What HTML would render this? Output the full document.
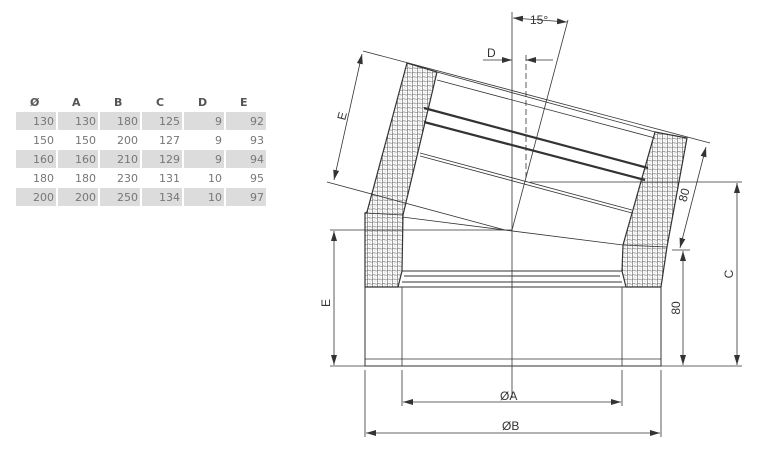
<!DOCTYPE html>
<html><head><style>
body{margin:0;background:#fff;width:775px;height:450px;overflow:hidden;font-family:"Liberation Sans","DejaVu Sans",sans-serif}
table{position:absolute;left:14px;top:92px;border-collapse:separate;border-spacing:2px 1px;font-family:"DejaVu Sans",sans-serif;font-size:11px;color:#777;table-layout:fixed}
td,th{box-sizing:border-box;width:40px;min-width:40px;max-width:40px;height:18px;text-align:right;padding:0 2px 0 0;overflow:hidden}
th{text-align:left;padding-left:14px;font-weight:bold;color:#555}
tr.g td{background:#dcdcdc}
</style></head><body>
<table>
<tr><th>Ø</th><th>A</th><th>B</th><th>C</th><th>D</th><th>E</th></tr>
<tr class="g"><td>130</td><td>130</td><td>180</td><td>125</td><td>9</td><td>92</td></tr>
<tr><td>150</td><td>150</td><td>200</td><td>127</td><td>9</td><td>93</td></tr>
<tr class="g"><td>160</td><td>160</td><td>210</td><td>129</td><td>9</td><td>94</td></tr>
<tr><td>180</td><td>180</td><td>230</td><td>131</td><td>10</td><td>95</td></tr>
<tr class="g"><td>200</td><td>200</td><td>250</td><td>134</td><td>10</td><td>97</td></tr>
</table>
<svg width="775" height="450" style="position:absolute;left:0;top:0" font-family="Liberation Sans, sans-serif" font-size="12" fill="none" stroke="#333" stroke-width="0.8">
<defs>
<pattern id="hx" width="5" height="4.4" patternUnits="userSpaceOnUse">
<circle cx="1.25" cy="1.1" r="1.5" stroke="#555" stroke-width="0.5"/><circle cx="3.75" cy="3.3" r="1.5" stroke="#555" stroke-width="0.5"/></pattern>
<marker id="a" markerWidth="10" markerHeight="6" refX="10" refY="3" orient="auto-start-reverse" markerUnits="userSpaceOnUse"><path d="M0,0L10,3L0,6z" fill="#333" stroke="none"/></marker>
</defs>
<path d="M407,63 L437,72 L403,215 L402,271 L398,287 L365,287 L365,213 L367,212Z" fill="url(#hx)" stroke-width="1.2"/>
<path d="M655,132 L687,138 L667,247 L661,287 L626,287 L622,271 L623,245Z" fill="url(#hx)" stroke-width="1.2"/>
<rect x="365" y="287" width="296" height="79" stroke-width="1"/>
<line x1="402" y1="287" x2="402" y2="366"/><line x1="622" y1="287" x2="622" y2="366"/>
<line x1="365" y1="359" x2="661" y2="359"/>
<path d="M402,271 L622,271 M404,276 L620,276 M402,282 L622,282" stroke-width="1"/>
<line x1="365" y1="213" x2="403" y2="215"/><line x1="623" y1="245" x2="667" y2="247"/>
<line x1="402" y1="217" x2="623" y2="245"/>
<line x1="437" y1="72" x2="655" y2="132"/>
<line x1="437" y1="80" x2="655" y2="138"/>
<path d="M424,108 L648,168 M424,122 L645,180" stroke-width="2.2"/>
<path d="M420,153 L632,210 M420,156 L632,213"/>
<line x1="512" y1="12" x2="512" y2="398"/>
<line x1="512" y1="230" x2="568" y2="20"/>
<line x1="363" y1="51" x2="710" y2="143"/>
<line x1="327" y1="182" x2="505" y2="230"/>
<line x1="330" y1="230" x2="512" y2="230"/>
<line x1="530" y1="182" x2="742" y2="182"/>
<line x1="330" y1="366" x2="742" y2="366"/>
<line x1="672" y1="250" x2="690" y2="250"/>
<line x1="526" y1="55" x2="526" y2="182" stroke-dasharray="6,3"/>
<line x1="365" y1="370" x2="365" y2="437"/><line x1="661" y1="370" x2="661" y2="437"/>
<line x1="402" y1="370" x2="402" y2="406"/><line x1="622" y1="370" x2="622" y2="406"/>
<line x1="403" y1="402" x2="621" y2="402" marker-start="url(#a)" marker-end="url(#a)"/>
<line x1="366" y1="433" x2="660" y2="433" marker-start="url(#a)" marker-end="url(#a)"/>
<line x1="737" y1="183" x2="737" y2="365" marker-start="url(#a)" marker-end="url(#a)"/>
<line x1="683" y1="251" x2="683" y2="365" marker-start="url(#a)" marker-end="url(#a)"/>
<line x1="334" y1="231" x2="334" y2="365" marker-start="url(#a)" marker-end="url(#a)"/>
<line x1="362" y1="54" x2="334" y2="180" marker-start="url(#a)" marker-end="url(#a)"/>
<line x1="706" y1="147" x2="680" y2="248" marker-start="url(#a)" marker-end="url(#a)"/>
<line x1="513" y1="18" x2="567" y2="22" marker-start="url(#a)" marker-end="url(#a)"/>
<line x1="483" y1="60" x2="512" y2="60" marker-end="url(#a)"/>
<line x1="553" y1="60" x2="526" y2="60" marker-end="url(#a)"/>
<g fill="#333" stroke="none">
<text x="530" y="24">15°</text>
<text x="487" y="57">D</text>
<text x="500" y="400">ØA</text>
<text x="502" y="430">ØB</text>
<text transform="translate(733,274) rotate(-90)" text-anchor="middle">C</text>
<text transform="translate(680,308) rotate(-90)" text-anchor="middle">80</text>
<text transform="translate(330,303) rotate(-90)" text-anchor="middle">E</text>
<text transform="translate(346,117) rotate(-75)" text-anchor="middle">E</text>
<text transform="translate(688,196) rotate(-75)" text-anchor="middle">80</text>
</g>
</svg>
</body></html>
